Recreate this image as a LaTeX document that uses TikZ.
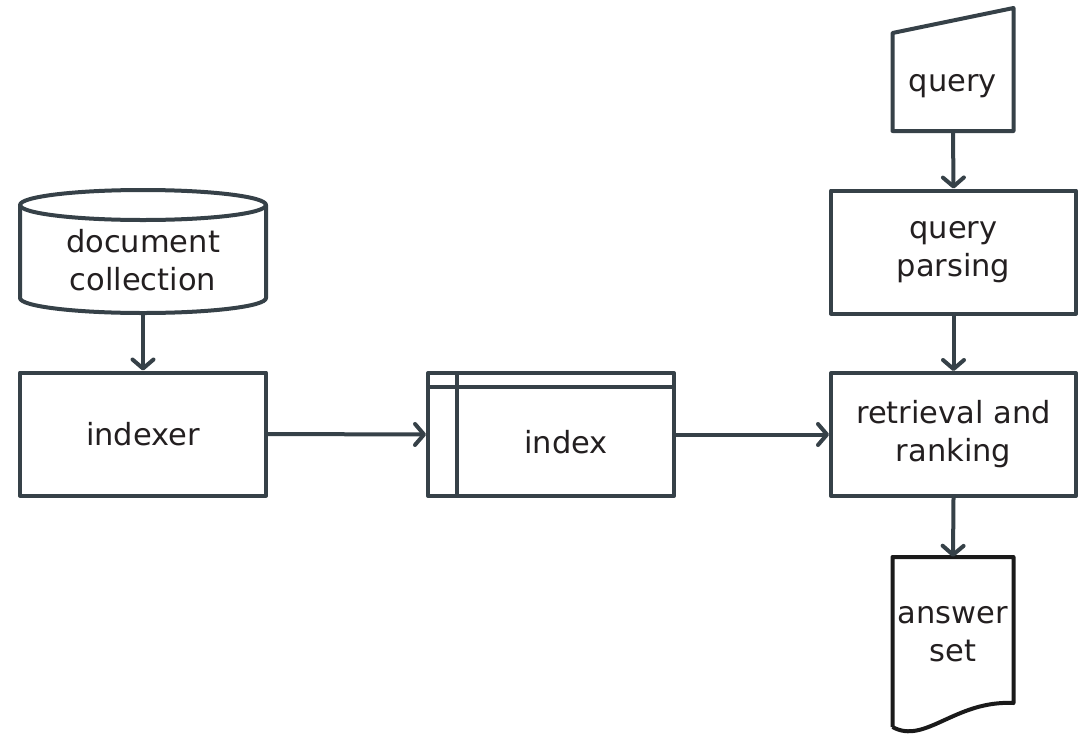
\documentclass[tikz,border=0pt]{standalone}
\usepackage{fontspec}
\setmainfont{DejaVu Sans}
\usetikzlibrary{arrows.meta}
\definecolor{strokec}{RGB}{54,65,72}
\definecolor{txtc}{RGB}{35,31,32}
\definecolor{docc}{RGB}{26,26,26}
\begin{document}
\begin{tikzpicture}[x=1pt,y=-1pt,
  shapeline/.style={draw=strokec,line width=4pt,line join=round},
  box/.style={shapeline,rectangle,minimum width=245pt,minimum height=123pt,inner sep=0pt,
    align=center,text=txtc,font=\fontsize{30.5}{38}\selectfont},
  ghost/.style={rectangle,inner sep=0pt,draw=none},
  lbl/.style={inner sep=0pt,align=center,text=txtc,font=\fontsize{30.5}{38}\selectfont},
  flow/.style={draw=strokec,line width=4pt,-{Straight Barb[length=9pt,width=21pt,round]}}]
\useasboundingbox (0,0) rectangle (1081,734);

% document collection (cylinder)
\node[ghost,minimum width=246pt,minimum height=123pt] (coll) at (143,251.5) {};
\draw[shapeline,fill=white] (20,205) -- (20,298) arc[start angle=180,end angle=0,x radius=123,y radius=15] -- (266,205);
\draw[shapeline] (143,205) ellipse[x radius=123,y radius=15];
\node[lbl] (colltxt) at (143,260) {document\\collection};

% indexer
\node[box,minimum width=246pt] (indexer) at (143,434) {indexer};

% index
\node[shapeline,ghost,draw=strokec,minimum width=246pt,minimum height=123pt] (index) at (551,434.5) {};
\draw[shapeline] ([yshift=-16pt]index.north west) -- ([yshift=-16pt]index.north east);
\draw[shapeline] ([xshift=31pt]index.north west) -- ([xshift=31pt]index.south west);
\node[lbl] (indextxt) at (566,442) {index};

% query (manual input)
\node[ghost,minimum width=121pt,minimum height=123pt] (query) at (953,69.5) {};
\draw[shapeline] (892.5,33) -- (1013.5,8) -- (1013.5,131) -- (892.5,131) -- cycle;
\node[lbl] (querytxt) at (953,86) {query};

% query parsing
\node[box] (qp) at (953.5,252) {query\\parsing};

% retrieval and ranking
\node[box] (ret) at (953.5,434.5) {retrieval and\\ranking};

% answer set (document)
\node[ghost,minimum width=121pt,minimum height=175pt] (ans) at (953,644.5) {};
\draw[draw=docc,line width=4pt,line join=round] (892.5,727) -- (892.5,557) -- (1013.5,557) -- (1013.5,703)
  .. controls (955,700) and (925,745) .. (892.5,727);
\node[lbl] (anstxt) at (953,634) {answer\\set};

% connectors
\draw[flow] (coll.south) -- (indexer.north);
\draw[flow] (indexer.east) -- (index.west);
\draw[flow] (index.east) -- (ret.west);
\draw[flow] (query.south) -- (qp.north);
\draw[flow] (qp.south) -- (ret.north);
\draw[flow] (ret.south) -- (ans.north);
\end{tikzpicture}
\end{document}
